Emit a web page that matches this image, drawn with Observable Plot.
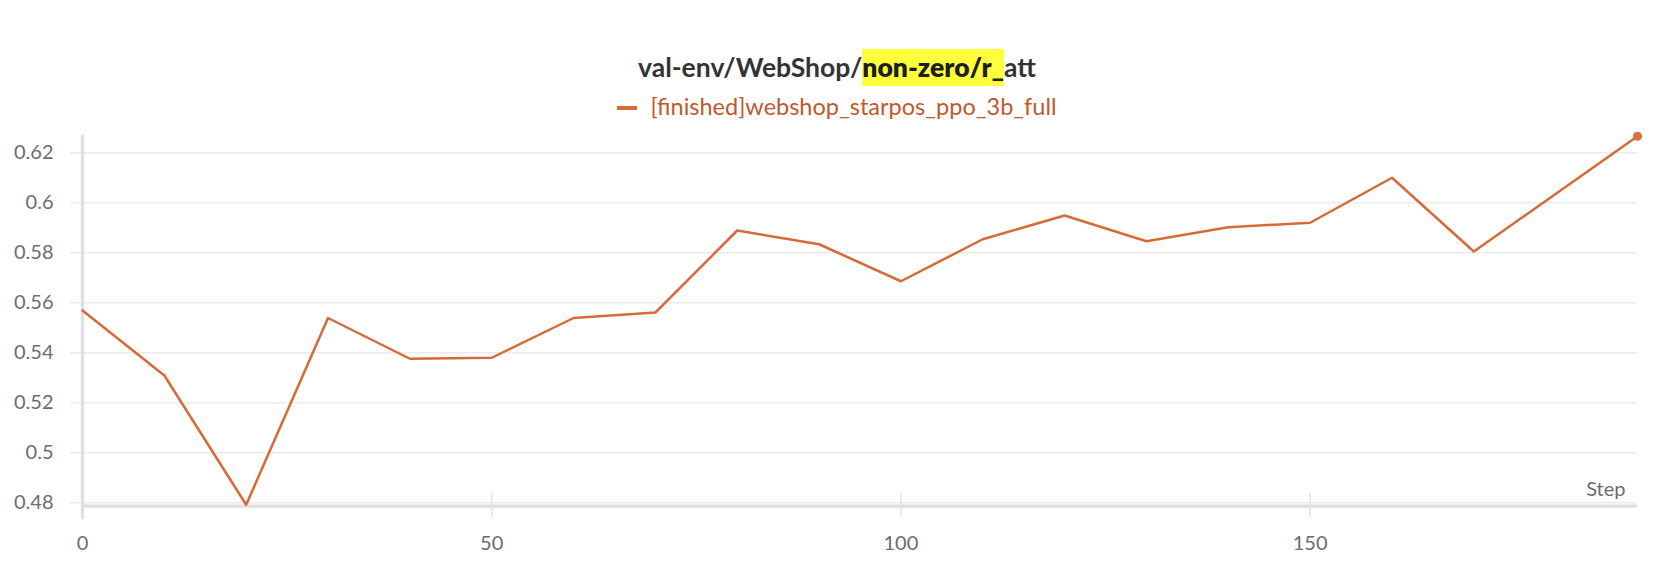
<!DOCTYPE html>
<html><head><meta charset="utf-8">
<script src="https://cdn.jsdelivr.net/npm/d3@7"></script>
<script src="https://cdn.jsdelivr.net/npm/@observablehq/plot@0.6"></script>
<style>
body{margin:0;background:#fff;width:1674px;height:578px;position:relative;overflow:hidden;font-family:Lato,"Noto Sans",sans-serif;}
#title{position:absolute;top:49px;left:0;width:1674px;height:37px;line-height:37px;text-align:center;font-size:26.5px;font-weight:700;color:#333;white-space:nowrap;}
#title .hl{display:inline-block;height:37px;line-height:37px;background:#ffff3c;font-weight:800;color:#1e1e1e;}
#legend{position:absolute;top:92px;left:0;width:1674px;height:28px;line-height:28px;text-align:center;font-size:23.5px;color:#c0582c;white-space:nowrap;}
#legend .sw{display:inline-block;width:20px;height:4px;background:#d86b37;vertical-align:middle;margin-right:13px;position:relative;top:-1px;}
#chart{position:absolute;top:120px;left:0;}
</style></head>
<body>
<div id="title"></div>
<div id="legend"></div>
<div id="chart"></div>
<script>
// ---- data ----
const titleParts = ["val-env/WebShop/", "non-zero/r_", "att"];
const seriesName = "[finished]webshop_starpos_ppo_3b_full";
const steps  = [0, 10, 20, 30, 40, 50, 60, 70, 80, 90, 100, 110, 120, 130, 140, 150, 160, 170, 190];
const values = [0.5569, 0.5309, 0.4792, 0.5539, 0.5376, 0.5380, 0.5539, 0.5561, 0.5889, 0.5834,
                0.5686, 0.5854, 0.5949, 0.5846, 0.5902, 0.5920, 0.6100, 0.5805, 0.6266];
const xTicks = [0, 50, 100, 150];
const yTicks = [0.48, 0.50, 0.52, 0.54, 0.56, 0.58, 0.60, 0.62];
const xDomain = [0, 190];
const yDomain = [0.4741, 0.6265];
const xLabel = "Step";

const data = steps.map((s, i) => ({step: s, value: values[i]}));

// ---- title & legend ----
const t = document.getElementById("title");
t.append(document.createTextNode(titleParts[0]));
const hl = document.createElement("span"); hl.className = "hl"; hl.textContent = titleParts[1]; t.append(hl);
t.append(document.createTextNode(titleParts[2]));
const lg = document.getElementById("legend");
const sw = document.createElement("span"); sw.className = "sw"; lg.append(sw);
lg.append(document.createTextNode(seriesName));

const lineColor = "#d66a38";
const textColor = "#6b6b78";
const axisColor = "#dedee3";

const chart = Plot.plot({
  width: 1674, height: 458,
  marginTop: 16, marginBottom: 61, marginLeft: 82, marginRight: 37,
  style: {fontFamily: "Lato, 'Noto Sans', sans-serif", fontSize: "20px", background: "transparent", overflow: "visible"},
  x: {domain: xDomain, label: null},
  y: {domain: yDomain, label: null},
  marks: [
    Plot.gridY(yTicks, {stroke: "#ebebeb", strokeOpacity: 1, strokeWidth: 1.5, insetLeft: -12}),
    Plot.frame({anchor: "left", stroke: axisColor, strokeWidth: 3.3}),
    Plot.ruleY([yTicks[0]], {stroke: axisColor, strokeWidth: 3.3, dy: 3.3}),
    Plot.axisX(xTicks, {tickSize: 24, insetBottom: 24, stroke: "#e3e3e8", strokeWidth: 1.5, tickFormat: () => "", label: null}),
    Plot.axisX(xTicks, {tickSize: 0, tickPadding: 18, fill: textColor, tickFormat: d => String(d), label: null}),
    Plot.axisY(yTicks, {tickSize: 0, tickPadding: 29, fill: textColor, tickFormat: d => String(+d.toFixed(2)), label: null}),
    Plot.text([xLabel], {frameAnchor: "bottom-right", textAnchor: "end", lineAnchor: "middle", dx: -12, dy: -28, fill: textColor, fontSize: 20}),
    Plot.line(data, {x: "step", y: "value", stroke: lineColor, strokeWidth: 2.5}),
    Plot.dot(data, Plot.selectLast({x: "step", y: "value", r: 4.6, fill: "#d9733f", stroke: "none"}))
  ]
});
document.getElementById("chart").append(chart);
</script>
</body></html>
